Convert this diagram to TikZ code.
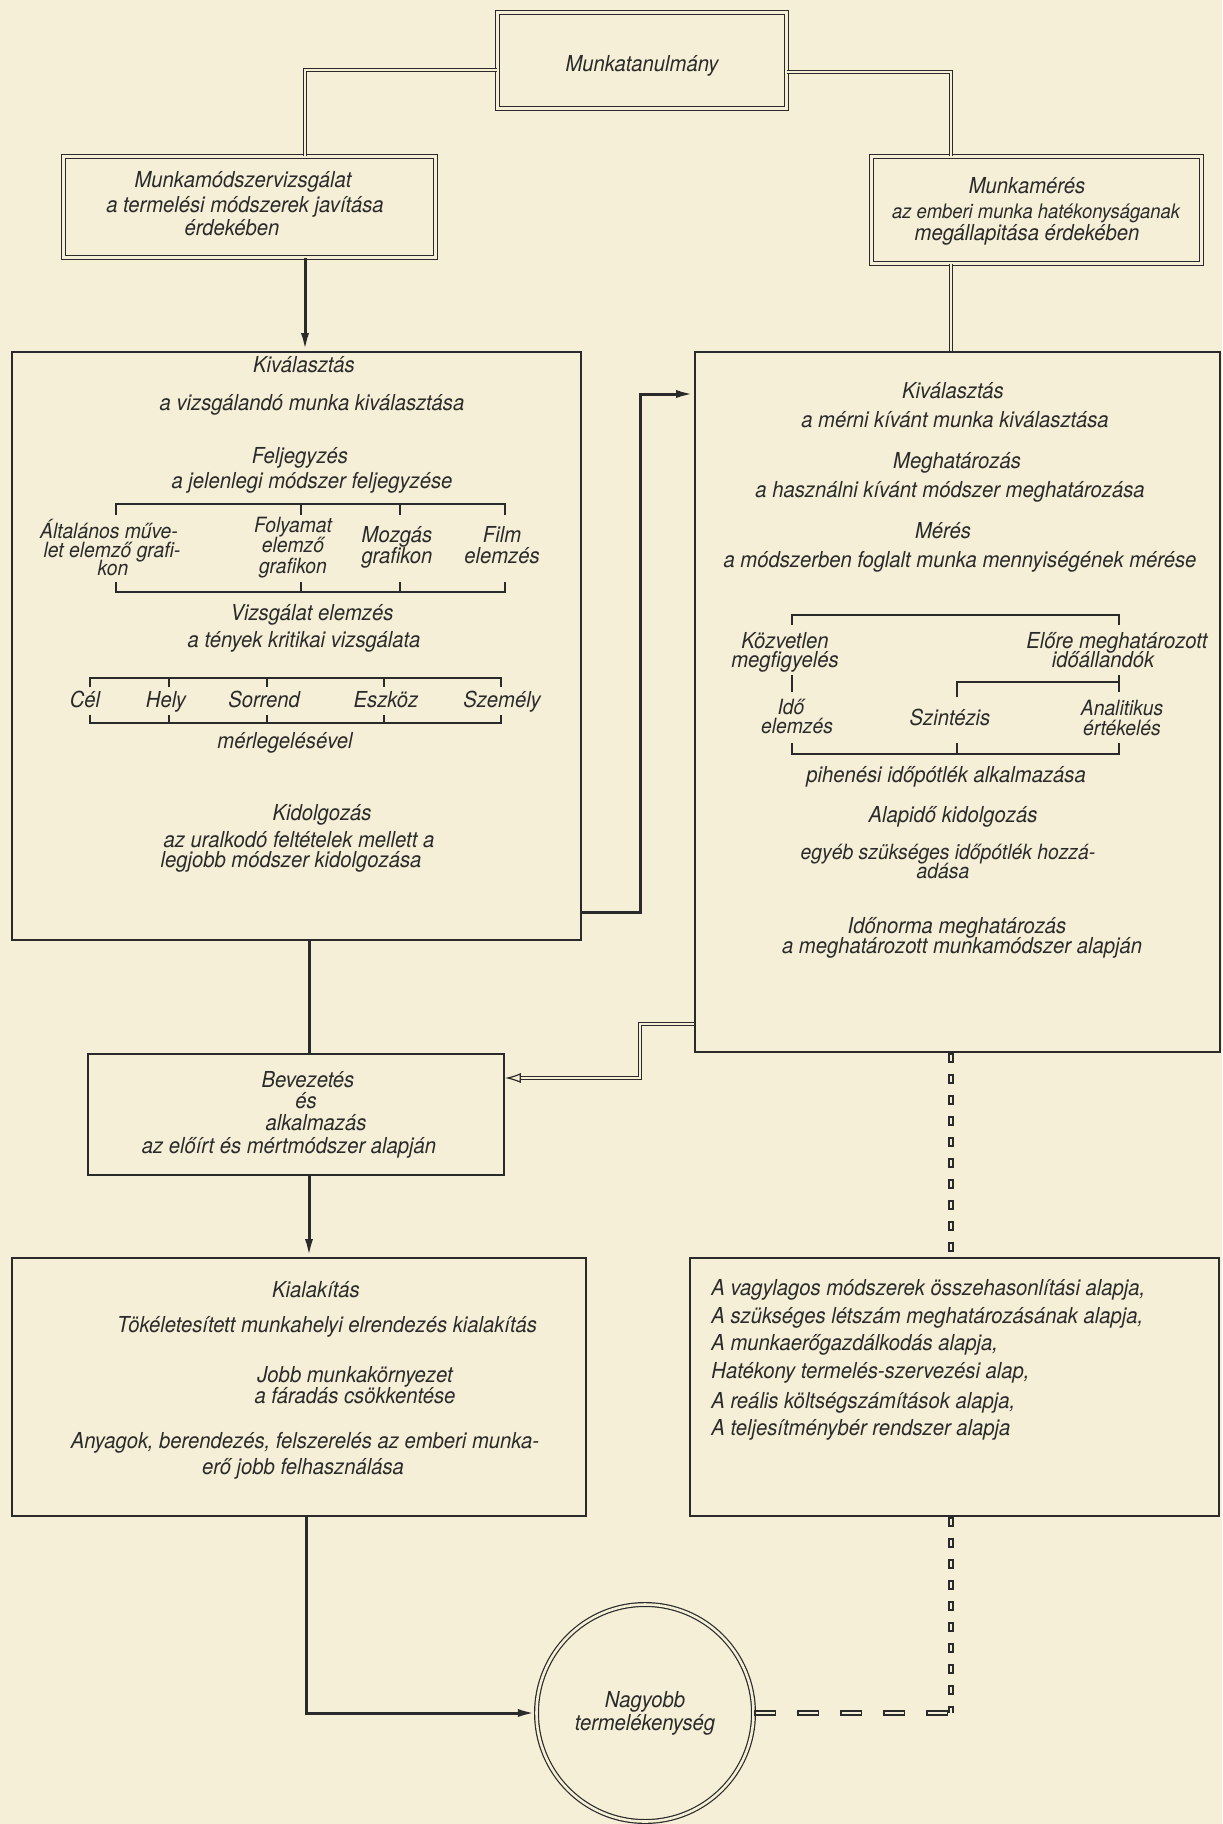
\documentclass[tikz,border=0pt]{standalone}
\usepackage{fontspec}
\setmainfont{TeX Gyre Heros}[FakeStretch=0.92]
\usetikzlibrary{arrows.meta}
\definecolor{paper}{HTML}{F4EFD6}
\definecolor{ink}{HTML}{2A2A2A}
\begin{document}
\begin{tikzpicture}[x=0.5pt,y=-0.5pt,
  every node/.style={text=ink, font=\fontsize{11}{13}\selectfont\itshape},
  txt/.style={inner sep=0pt, text height=7pt, text depth=1.5pt},
  small/.style={font=\fontsize{10.5}{12}\selectfont\itshape},
  box/.style={draw=ink, line width=0.9pt, inner sep=0pt},
  dbox/.style={draw=ink, line width=0.6pt, double=paper, double distance=1.3pt, inner sep=0pt},
  heavy/.style={draw=ink, line width=1.5pt},
  tip/.style={-{Latex[length=9pt,width=4pt]}},
  dline/.style={draw=ink, line width=0.6pt, double=paper, double distance=1.2pt},
  brk/.style={draw=ink, line width=0.8pt},
  vdots/.style={draw=ink, line width=2.6pt, dash pattern=on 5pt off 5.5pt,
     postaction={draw=paper, line width=1.0pt, dash pattern=on 3.4pt off 7.1pt, dash phase=9.7pt}},
  hdash/.style={draw=ink, line width=2.6pt, dash pattern=on 11pt off 10.5pt,
     postaction={draw=paper, line width=1.0pt, dash pattern=on 9.4pt off 12.1pt, dash phase=20.7pt}},
]
\path[use as bounding box, fill=paper] (0,0) rectangle (1222,1824);

% boxes
\node[dbox, minimum width=144.5pt, minimum height=48pt] (top) at (642,60.5) {};
\node[dbox, minimum width=186pt, minimum height=50.5pt] (mms) at (249.5,207) {};
\node[dbox, minimum width=165pt, minimum height=53.5pt] (mmr) at (1036.5,210) {};
\node[box, minimum width=284.5pt, minimum height=294pt] (bigL) at (296.5,646) {};
\node[box, minimum width=262.5pt, minimum height=350pt] (bigR) at (957.5,702) {};
\node[box, minimum width=208pt, minimum height=60.5pt] (bev) at (296,1114.5) {};
\node[box, minimum width=287pt, minimum height=129pt] (kial) at (299,1387) {};
\node[box, minimum width=264.5pt, minimum height=129pt] (botR) at (954.5,1387) {};
\node[dbox, circle, minimum size=108.5pt, align=center,
      font=\fontsize{11}{11.5}\selectfont\itshape] (circ) at (645,1713) {Nagyobb\\termelékenység};

% helper coordinates
\coordinate (cy70) at (0,70);
\coordinate (cy72) at (0,72);
\coordinate (cx305) at (305,0);
\coordinate (cx951) at (951,0);
\coordinate (cx309) at (309,0);
\coordinate (cx306) at (306,0);
\coordinate (j1) at (640,912);
\coordinate (j2) at (640,394);
\coordinate (j3) at (640,1024);
\coordinate (j4) at (640,1078);
\coordinate (j5) at (951,1713);

% connectors
\draw[dline] (top.west |- cy70) -| (cx305 |- mms.north);
\draw[dline] (top.east |- cy72) -| (cx951 |- mmr.north);
\draw[heavy, tip] (cx305 |- mms.south) -- (cx305 |- bigL.north);
\draw[dline] (cx951 |- mmr.south) -- (cx951 |- bigR.north);
\draw[heavy, tip] (bigL.east |- j1) -- (j1) -- (j2) -- (bigR.west |- j2);
\draw[dline, -{Latex[open,length=8pt,width=5pt]}] (bigR.west |- j3) -- (j3) -- (j4) -- (bev.east |- j4);
\draw[heavy] (cx309 |- bigL.south) -- (cx309 |- bev.north);
\draw[heavy, tip] (cx309 |- bev.south) -- (cx309 |- kial.north);
\draw[heavy, tip] (cx306 |- kial.south) |- (circ.west);
\draw[vdots] (cx951 |- bigR.south) -- (cx951 |- botR.north);
\draw[vdots] (cx951 |- botR.south) -- (j5);
\draw[hdash] (circ.east) -- (j5);

% brackets left box
\draw[brk] (116,515) -- (116,504) -- (505,504) -- (505,515);
\draw[brk] (301,504) -- (301,515) (400,504) -- (400,515);
\draw[brk] (116,582) -- (116,592) -- (505,592) -- (505,582);
\draw[brk] (301,592) -- (301,582) (400,592) -- (400,582);
\draw[brk] (90,687) -- (90,678) -- (501,678) -- (501,687);
\draw[brk] (169,678) -- (169,687) (267,678) -- (267,687) (384,678) -- (384,687);
\draw[brk] (90,715) -- (90,723) -- (501,723) -- (501,715);
\draw[brk] (169,723) -- (169,715) (267,723) -- (267,715) (384,723) -- (384,715);
% brackets right box
\draw[brk] (792,625) -- (792,615) -- (1119,615) -- (1119,625);
\draw[brk] (792,675) -- (792,692);
\draw[brk] (1119,675) -- (1119,692);
\draw[brk] (957,697) -- (957,682) -- (1119,682);
\draw[brk] (792,743) -- (792,754) -- (1119,754) -- (1119,743);
\draw[brk] (957,754) -- (957,743);

% texts: top row
\node[txt] (t0) at (642,66) {Munkatanulmány};
\node[txt] (ta1) at (243,182) {Munkamódszervizsgálat};
\node[txt] (ta2) at (245,207) {a termelési módszerek javítása};
\node[txt] (ta3) at (232,230) {érdekében};
\node[txt] (tb1) at (1027,188) {Munkamérés};
\node[txt, font=\fontsize{10}{12}\selectfont\itshape] (tb2) at (1036,213) {az emberi munka hatékonyságanak};
\node[txt] (tb3) at (1027,235) {megállapitása érdekében};

% left big box texts
\node[txt] (l1) at (304,367) {Kiválasztás};
\node[txt] (l2) at (312,405) {a vizsgálandó munka kiválasztása};
\node[txt] (l3) at (300,458) {Feljegyzés};
\node[txt] (l4) at (312,483) {a jelenlegi módszer feljegyzése};
\node[txt, small] (l5a) at (109,533) {Általános műve-};
\node[txt, small] (l5b) at (112,552) {let elemző grafi-};
\node[txt, small] (l5c) at (113,570) {kon};
\node[txt, small] (l6a) at (293,527) {Folyamat};
\node[txt, small] (l6b) at (293,547) {elemző};
\node[txt, small] (l6c) at (293,568) {grafikon};
\node[txt] (l7a) at (397,537) {Mozgás};
\node[txt] (l7b) at (397,558) {grafikon};
\node[txt] (l8a) at (502,537) {Film};
\node[txt] (l8b) at (502,558) {elemzés};
\node[txt] (l9) at (312,615) {Vizsgálat elemzés};
\node[txt] (l10) at (304,642) {a tények kritikai vizsgálata};
\node[txt] (c1) at (85,702) {Cél};
\node[txt] (c2) at (166,702) {Hely};
\node[txt] (c3) at (264,702) {Sorrend};
\node[txt] (c4) at (386,702) {Eszköz};
\node[txt] (c5) at (502,702) {Személy};
\node[txt] (l12) at (285,743) {mérlegelésével};
\node[txt] (l13) at (322,815) {Kidolgozás};
\node[txt] (l14a) at (299,842) {az uralkodó feltételek mellett a};
\node[txt] (l14b) at (291,862) {legjobb módszer kidolgozása};

% right big box texts
\node[txt] (r1) at (953,393) {Kiválasztás};
\node[txt] (r2) at (955,422) {a mérni kívánt munka kiválasztása};
\node[txt] (r3) at (957,463) {Meghatározás};
\node[txt] (r4) at (950,492) {a használni kívánt módszer meghatározása};
\node[txt] (r5) at (943,533) {Mérés};
\node[txt] (r6) at (960,562) {a módszerben foglalt munka mennyiségének mérése};
\node[txt] (r7a) at (785,643) {Közvetlen};
\node[txt] (r7b) at (785,662) {megfigyelés};
\node[txt] (r8a) at (1117,643) {Előre meghatározott};
\node[txt] (r8b) at (1103,662) {időállandók};
\node[txt, small] (r9a) at (791,709) {Idő};
\node[txt, small] (r9b) at (797,728) {elemzés};
\node[txt] (r10) at (950,720) {Szintézis};
\node[txt, small] (r11a) at (1122,710) {Analitikus};
\node[txt, small] (r11b) at (1122,730) {értékelés};
\node[txt] (r12) at (946,777) {pihenési időpótlék alkalmazása};
\node[txt] (r13) at (953,817) {Alapidő kidolgozás};
\node[txt, small] (r14a) at (948,854) {egyéb szükséges időpótlék hozzá-};
\node[txt, small] (r14b) at (943,873) {adása};
\node[txt] (r15) at (957,928) {Időnorma meghatározás};
\node[txt] (r16) at (962,948) {a meghatározott munkamódszer alapján};

% Bevezetés
\node[txt] (v1) at (308,1082) {Bevezetés};
\node[txt] (v2) at (306,1103) {és};
\node[txt] (v3) at (316,1125) {alkalmazás};
\node[txt] (v4) at (289,1148) {az előírt és mértmódszer alapján};

% Kialakítás
\node[txt] (k1) at (316,1292) {Kialakítás};
\node[txt] (k2) at (327,1327) {Tökéletesített munkahelyi elrendezés kialakítás};
\node[txt] (k3) at (355,1377) {Jobb munkakörnyezet};
\node[txt] (k4) at (355,1398) {a fáradás csökkentése};
\node[txt] (k5) at (305,1443) {Anyagok, berendezés, felszerelés az emberi munka-};
\node[txt] (k6) at (303,1469) {erő jobb felhasználása};

% bottom right box
\node[txt, anchor=west] (b1) at (711,1290) {A vagylagos módszerek összehasonlítási alapja,};
\node[txt, anchor=west] (b2) at (711,1318) {A szükséges létszám meghatározásának alapja,};
\node[txt, anchor=west] (b3) at (711,1345) {A munkaerőgazdálkodás alapja,};
\node[txt, anchor=west] (b4) at (711,1373) {Hatékony termelés-szervezési alap,};
\node[txt, anchor=west] (b5) at (711,1403) {A reális költségszámítások alapja,};
\node[txt, anchor=west] (b6) at (711,1430) {A teljesítménybér rendszer alapja};
\end{tikzpicture}
\end{document}
